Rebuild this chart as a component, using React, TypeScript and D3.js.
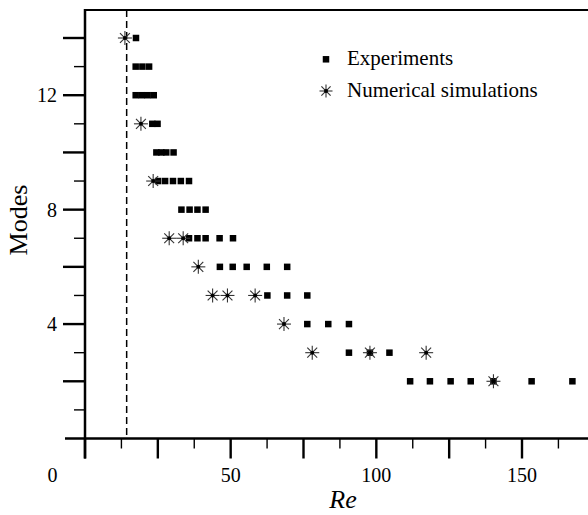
import React from "react";
import * as d3 from "d3";

// Experiments (Re, mode)
const expRe = [
  17.5,
  17.4, 19.7, 22.0,
  17.4, 19.5, 21.5, 23.6,
  23.1, 24.9,
  24.5, 26.2, 27.9, 30.4,
  25.1, 27.5, 30.2, 32.9, 35.7,
  33.1, 35.9, 38.6, 41.4,
  35.7, 38.6, 41.4, 46.2, 50.8,
  46.3, 50.7, 55.5, 62.4, 69.4,
  62.6, 69.4, 76.3,
  76.3, 83.5, 90.6,
  90.6, 97.8, 104.5,
  111.6, 118.4, 125.5, 132.4, 140.2, 153.3, 167.3,
];
const expMode = [
  14,
  13, 13, 13,
  12, 12, 12, 12,
  11, 11,
  10, 10, 10, 10,
  9, 9, 9, 9, 9,
  8, 8, 8, 8,
  7, 7, 7, 7, 7,
  6, 6, 6, 6, 6,
  5, 5, 5,
  4, 4, 4,
  3, 3, 3,
  2, 2, 2, 2, 2, 2, 2,
];

// Numerical simulations (Re, mode)
const simRe = [13.7, 19.2, 23.4, 28.9, 33.7, 38.9, 43.8, 48.9, 58.4, 68.3, 78.0, 97.8, 117.1, 140.2];
const simMode = [14, 11, 9, 7, 7, 6, 5, 5, 5, 4, 3, 3, 3, 2];

const xTickLabels = [0, 50, 100, 150];
const yTickLabels = [4, 8, 12];
const onsetRe = 14.3;
const legendItems = ["Experiments", "Numerical simulations"];

const FONT = "'Liberation Serif', 'Times New Roman', serif";

function Star({ cx, cy, r = 7 }: { cx: number; cy: number; r?: number }) {
  const angles = [0, 45, 90, 135];
  return (
    <g>
      {angles.map((a) => {
        const rad = (a * Math.PI) / 180;
        const dx = Math.cos(rad) * r;
        const dy = Math.sin(rad) * r;
        return (
          <line key={a} x1={cx - dx} y1={cy - dy} x2={cx + dx} y2={cy + dy} stroke="#333" strokeWidth={1.1} />
        );
      })}
      <circle cx={cx} cy={cy} r={2} fill="#000" />
    </g>
  );
}

export default function App() {
  const x = d3.scaleLinear().domain([0, 150]).range([85, 522]);
  const y = d3.scaleLinear().domain([0, 14]).range([438.5, 38]);
  const xLeft = x(0);
  const yBottom = y(0);
  const topY = 10;
  const rightX = 588;

  const xTicks = d3.range(0, 172, 12.5);
  const yTicks = d3.range(1, 15, 1);
  const sq = 6.5;

  return (
    <svg
      width={588}
      height={515}
      style={{ position: "absolute", left: 0, top: 0, background: "#fff" }}
      fontFamily={FONT}
    >
      <rect width={588} height={515} fill="#fff" />
      {/* top border */}
      <line x1={xLeft} y1={topY} x2={rightX} y2={topY} stroke="#000" strokeWidth={2.2} />
      {/* y axis */}
      <line x1={xLeft} y1={topY - 1} x2={xLeft} y2={yBottom + 20} stroke="#000" strokeWidth={2.5} />
      {/* x axis */}
      <line x1={xLeft - 20} y1={yBottom} x2={rightX} y2={yBottom} stroke="#000" strokeWidth={2.5} />

      {/* y ticks */}
      {yTicks.map((t) => {
        const major = t % 2 === 0;
        return (
          <line
            key={"yt" + t}
            x1={major ? xLeft - 22 : xLeft - 11}
            x2={xLeft}
            y1={y(t)}
            y2={y(t)}
            stroke="#000"
            strokeWidth={major ? 2.4 : 1.4}
          />
        );
      })}
      {yTickLabels.map((t) => (
        <text key={"yl" + t} x={57} y={y(t) + 7} textAnchor="end" fontSize={20} fill="#000">
          {t}
        </text>
      ))}

      {/* x ticks */}
      {xTicks.map((t) => {
        const major = Math.abs(t % 25) < 1e-6;
        return (
          <line
            key={"xt" + t}
            x1={x(t)}
            x2={x(t)}
            y1={yBottom}
            y2={yBottom + (major ? 20 : 10)}
            stroke="#000"
            strokeWidth={major ? 2.4 : 1.4}
          />
        );
      })}
      {xTickLabels.map((t) => (
        <text
          key={"xl" + t}
          x={t === 0 ? 52.5 : x(t)}
          y={482}
          textAnchor="middle"
          fontSize={20}
          fill="#000"
        >
          {t}
        </text>
      ))}

      {/* axis titles */}
      <text x={343} y={508} textAnchor="middle" fontSize={26} fontStyle="italic" fill="#000">
        Re
      </text>
      <text
        transform={`translate(27,220) rotate(-90)`}
        textAnchor="middle"
        fontSize={26}
        fill="#000"
      >
        Modes
      </text>

      {/* onset dashed line */}
      <line
        x1={x(onsetRe)}
        x2={x(onsetRe)}
        y1={topY}
        y2={yBottom}
        stroke="#000"
        strokeWidth={1.5}
        strokeDasharray="7,4"
      />

      {/* experiments */}
      {expRe.map((re, i) => (
        <rect
          key={"e" + i}
          x={x(re) - sq / 2}
          y={y(expMode[i]) - sq / 2}
          width={sq}
          height={sq}
          fill="#000"
        />
      ))}

      {/* simulations */}
      {simRe.map((re, i) => (
        <Star key={"s" + i} cx={x(re)} cy={y(simMode[i])} />
      ))}

      {/* legend */}
      <rect x={326 - sq / 2} y={59.3 - sq / 2} width={sq} height={sq} fill="#000" />
      <text x={347} y={65} fontSize={21} fill="#000">
        {legendItems[0]}
      </text>
      <Star cx={326} cy={91} r={6.5} />
      <text x={347} y={96.5} fontSize={21} fill="#000">
        {legendItems[1]}
      </text>
    </svg>
  );
}
